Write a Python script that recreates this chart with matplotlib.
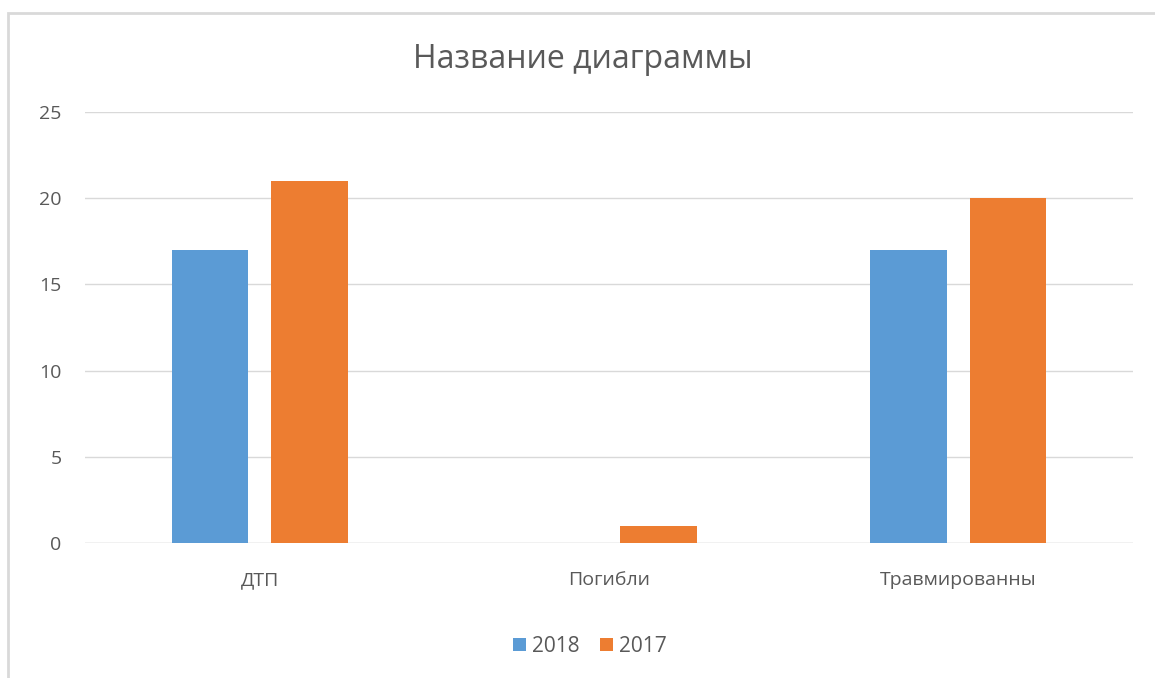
import numpy as np
import matplotlib.pyplot as plt
from matplotlib.patches import Rectangle

# Данные диаграммы
categories = ["ДТП", "Погибли", "Травмированны"]
series_names = ["2018", "2017"]
values_2018 = [17, 0, 17]
values_2017 = [21, 1, 20]
colors = ["#5b9bd5", "#ed7d31"]

plt.rcParams['font.family'] = ['Open Sans', 'DejaVu Sans']

fig = plt.figure(figsize=(11.55, 6.78), dpi=100)
ax = fig.add_axes([85 / 1155, 1 - 543 / 678, 1048 / 1155, 431 / 678])

# рамка вокруг диаграммы
fig.patches.append(Rectangle((8 / 1155, -0.05), 1.2, 1 - 13 / 678 + 0.05,
                             transform=fig.transFigure, fill=False,
                             edgecolor="#d9d9d9", linewidth=2))

x = np.arange(len(categories))
w = 0.22
off = 0.142
ax.bar(x - off, values_2018, w, color=colors[0], label=series_names[0], zorder=3)
ax.bar(x + off, values_2017, w, color=colors[1], label=series_names[1], zorder=3)

ax.set_xlim(-0.5, 2.5)
ax.set_ylim(0, 25)
ax.set_yticks(range(0, 26, 5))
ax.yaxis.grid(True, color="#d9d9d9", linewidth=1, zorder=0)
for s in ax.spines.values():
    s.set_visible(False)
ax.tick_params(length=0, colors="#595959", labelsize=14)
ax.tick_params(axis="y", pad=17)
ax.tick_params(axis="x", pad=20)
ax.set_xticks(x)
ax.set_xticklabels(categories)
ax.axhline(0, color="#d9d9d9", linewidth=1, zorder=2)

fig.text(583 / 1155, 1 - 60 / 678, "Название диаграммы", ha="center", va="center",
         fontsize=23, color="#595959")

fig.legend(loc="center", bbox_to_anchor=(590 / 1155, 1 - 646 / 678), ncol=2,
           frameon=False, fontsize=15, labelcolor="#595959",
           handlelength=0.6, handleheight=0.6, handletextpad=0.3, columnspacing=1.0)

fig.savefig("out.png", dpi=100, facecolor="white")
